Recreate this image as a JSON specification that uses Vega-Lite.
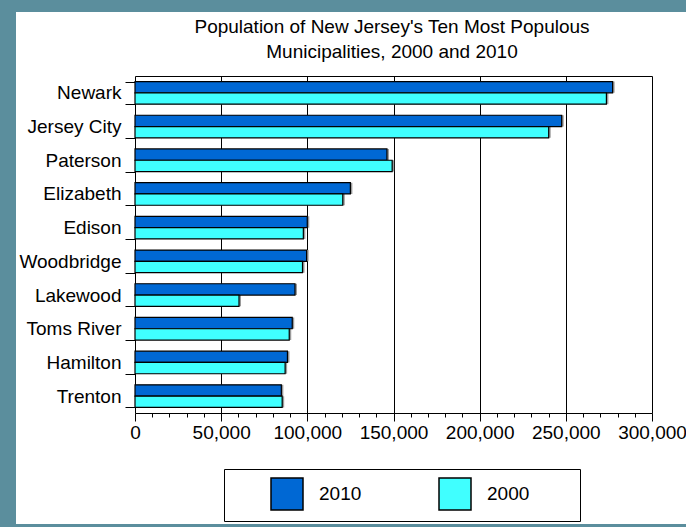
{
  "$schema": "https://vega.github.io/schema/vega-lite/v6.json",
  "width": 670,
  "height": 512,
  "autosize": {"type": "none"},
  "padding": {"left": 16, "top": 12, "right": 0, "bottom": 3},
  "background": "#5b8e9d",
  "config": {"view": {"fill": "white", "stroke": null}, "font": "Liberation Sans"},
  "title": {
    "text": ["Population of New Jersey's Ten Most Populous", "Municipalities, 2000 and 2010"],
    "fontSize": 19,
    "fontWeight": "normal",
    "color": "black",
    "anchor": "middle",
    "frame": "group",
    "dx": 41,
    "offset": -59,
    "lineHeight": 25
  },
  "data": {
    "values": [
      {"city": "Newark", "year": "2010", "pop": 277140},
      {"city": "Newark", "year": "2000", "pop": 273546},
      {"city": "Jersey City", "year": "2010", "pop": 247597},
      {"city": "Jersey City", "year": "2000", "pop": 240055},
      {"city": "Paterson", "year": "2010", "pop": 146199},
      {"city": "Paterson", "year": "2000", "pop": 149222},
      {"city": "Elizabeth", "year": "2010", "pop": 124969},
      {"city": "Elizabeth", "year": "2000", "pop": 120568},
      {"city": "Edison", "year": "2010", "pop": 99967},
      {"city": "Edison", "year": "2000", "pop": 97687},
      {"city": "Woodbridge", "year": "2010", "pop": 99585},
      {"city": "Woodbridge", "year": "2000", "pop": 97203},
      {"city": "Lakewood", "year": "2010", "pop": 92843},
      {"city": "Lakewood", "year": "2000", "pop": 60352},
      {"city": "Toms River", "year": "2010", "pop": 91239},
      {"city": "Toms River", "year": "2000", "pop": 89500},
      {"city": "Hamilton", "year": "2010", "pop": 88464},
      {"city": "Hamilton", "year": "2000", "pop": 87109},
      {"city": "Trenton", "year": "2010", "pop": 84913},
      {"city": "Trenton", "year": "2000", "pop": 85403}
    ]
  },
  "encoding": {
    "y": {
      "field": "city",
      "type": "nominal",
      "sort": null,
      "scale": {"range": [64, 401], "paddingInner": 0.33, "paddingOuter": 0.165},
      "axis": {
        "title": null,
        "orient": "left",
        "offset": -119,
        "tickBand": "extent",
        "grid": false,
        "domainColor": "black",
        "domainWidth": 1,
        "tickColor": "black",
        "tickSize": 10,
        "labelPadding": 4,
        "labelFontSize": 19,
        "labelColor": "black",
        "labelFont": "Liberation Sans"
      }
    },
    "yOffset": {
      "field": "year",
      "type": "nominal",
      "sort": ["2010", "2000"],
      "scale": {"paddingInner": 0, "paddingOuter": 0}
    }
  },
  "layer": [
    {
      "mark": {"type": "bar", "color": "#9a9a9a", "xOffset": 2},
      "encoding": {
        "x": {
          "field": "pop",
          "type": "quantitative",
          "scale": {"domain": [0, 300000], "range": [119, 636], "nice": false, "zero": true},
          "axis": {
            "orient": "top",
            "offset": -64,
            "title": null,
            "values": [50000, 100000, 150000, 200000, 250000, 300000],
            "labels": false,
            "ticks": false,
            "grid": true,
            "gridColor": "black",
            "gridWidth": 1,
            "domain": true,
            "domainColor": "black",
            "domainWidth": 1
          }
        }
      }
    },
    {
      "mark": {"type": "bar", "stroke": "black", "strokeWidth": 1.2},
      "encoding": {
        "x": {
          "field": "pop",
          "type": "quantitative",
          "scale": {"domain": [0, 300000], "range": [119, 636], "nice": false, "zero": true},
          "axis": {
            "orient": "bottom",
            "offset": -111,
            "title": null,
            "values": [0, 10000, 20000, 30000, 40000, 50000, 60000, 70000, 80000, 90000, 100000, 110000, 120000, 130000, 140000, 150000, 160000, 170000, 180000, 190000, 200000, 210000, 220000, 230000, 240000, 250000, 260000, 270000, 280000, 290000, 300000],
            "labelExpr": "datum.value % 50000 === 0 ? format(datum.value, ',') : ''",
            "tickSize": {"condition": {"test": "datum.value % 50000 === 0", "value": 8}, "value": 4},
            "tickColor": "black",
            "domainColor": "black",
            "domainWidth": 1,
            "grid": false,
            "labelFontSize": 19,
            "labelColor": "black",
            "labelPadding": 2,
            "labelFlush": false,
            "labelOverlap": false,
            "labelFont": "Liberation Sans"
          }
        },
        "color": {
          "field": "year",
          "type": "nominal",
          "sort": ["2010", "2000"],
          "scale": {"domain": ["2010", "2000"], "range": ["#0068d4", "#40ffff"]},
          "legend": {
            "orient": "none",
            "legendX": 208,
            "legendY": 457,
            "direction": "horizontal",
            "title": "\u2800",
            "titleOrient": "left",
            "titleFontSize": 19,
            "titleColor": "white",
            "titlePadding": 24,
            "strokeColor": "black",
            "fillColor": "white",
            "padding": 8,
            "symbolType": "square",
            "symbolSize": 1024,
            "symbolStrokeColor": "black",
            "symbolStrokeWidth": 1.5,
            "symbolOpacity": 1,
            "labelFontSize": 19,
            "labelColor": "black",
            "labelOffset": 15,
            "columnPadding": 74,
            "labelExpr": "datum.label === '2000' ? datum.label + '\u2800\u2800\u2800' : datum.label",
            "labelFont": "Liberation Sans"
          }
        }
      }
    }
  ],
  "resolve": {"axis": {"x": "independent"}}
}
